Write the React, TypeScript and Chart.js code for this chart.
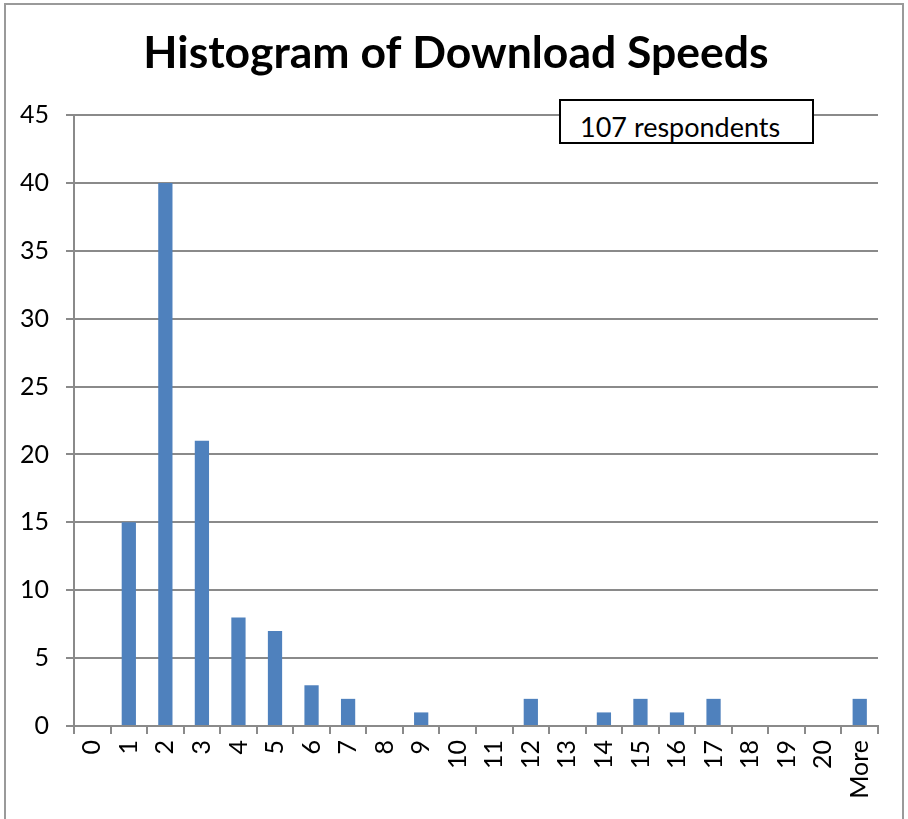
import React, { useEffect, useRef } from "react";
import { Chart, registerables } from "chart.js";

Chart.register(...registerables);

const categories = ["0","1","2","3","4","5","6","7","8","9","10","11","12","13","14","15","16","17","18","19","20","More"];
const frequencies = [0,15,40,21,8,7,3,2,0,1,0,0,2,0,1,2,1,2,0,0,0,2];
const yTicks = [0,5,10,15,20,25,30,35,40,45];
const titleText = "Histogram of Download Speeds";
const noteText = "107 respondents";

const FONT = "Lato, 'Noto Sans', sans-serif";
const GRID = "#8a8a8a";

const centeredTitle = {
  id: "centeredTitle",
  afterDraw(chart: any) {
    const ctx = chart.ctx;
    ctx.save();
    ctx.font = `bold 44.5px ${FONT}`;
    ctx.fillStyle = "#000";
    ctx.textAlign = "center";
    ctx.textBaseline = "alphabetic";
    ctx.fillText(titleText, chart.width / 2 + 2, 68);
    ctx.restore();
  },
};

export default function App() {
  const ref = useRef<HTMLCanvasElement | null>(null);

  useEffect(() => {
    document.body.style.margin = "0";
    const canvas = ref.current;
    if (!canvas) return;
    const chart = new Chart(canvas, {
      type: "bar",
      data: {
        labels: categories,
        datasets: [
          {
            data: frequencies,
            backgroundColor: "#4F81BD",
            borderWidth: 0,
            barPercentage: 0.39,
            categoryPercentage: 1,
          },
        ],
      },
      plugins: [centeredTitle],
      options: {
        animation: false,
        responsive: false,
        maintainAspectRatio: false,
        layout: { padding: { left: 0, right: 30, top: 115, bottom: 0 } },
        plugins: {
          legend: { display: false },
          tooltip: { enabled: false },
          title: { display: false },
        },
        scales: {
          x: {
            offset: true,
            grid: {
              offset: true,
              drawOnChartArea: false,
              drawTicks: true,
              tickLength: 8,
              color: GRID,
              lineWidth: 2,
            },
            border: { display: true, color: GRID, width: 2 },
            ticks: {
              color: "#000",
              font: { family: FONT, size: 25 },
              minRotation: 90,
              maxRotation: 90,
              autoSkip: false,
              padding: 6,
            },
            afterFit: (s: any) => {
              s.height = 93;
            },
          },
          y: {
            min: 0,
            max: 45,
            afterBuildTicks: (s: any) => {
              s.ticks = yTicks.map((v) => ({ value: v }));
            },
            grid: {
              color: GRID,
              lineWidth: 2,
              drawTicks: true,
              tickLength: 8,
            },
            border: { display: true, color: GRID, width: 2 },
            ticks: {
              color: "#000",
              font: { family: FONT, size: 25 },
              padding: 17,
            },
            afterFit: (s: any) => {
              s.width = 74;
            },
          },
        },
      },
    });
    return () => chart.destroy();
  }, []);

  return (
    <div style={{ position: "relative", width: 908, height: 819, overflow: "hidden", background: "#fff" }}>
      <canvas ref={ref} width={908} height={819} style={{ position: "absolute", left: 0, top: 0 }} />
      <div
        style={{
          position: "absolute",
          left: 4,
          top: 3,
          width: 900,
          height: 900,
          border: "2px solid #9a9a9a",
          boxSizing: "border-box",
          pointerEvents: "none",
        }}
      />
      <div
        style={{
          position: "absolute",
          left: 559,
          top: 99,
          width: 255,
          height: 45,
          border: "2px solid #000",
          boxSizing: "border-box",
          background: "#fff",
          fontFamily: FONT,
          fontSize: 27,
          lineHeight: "44px",
          paddingLeft: 19,
          color: "#000",
          whiteSpace: "nowrap",
          overflow: "hidden",
        }}
      >
        <span style={{ position: "relative", top: 4 }}>{noteText}</span>
      </div>
    </div>
  );
}
